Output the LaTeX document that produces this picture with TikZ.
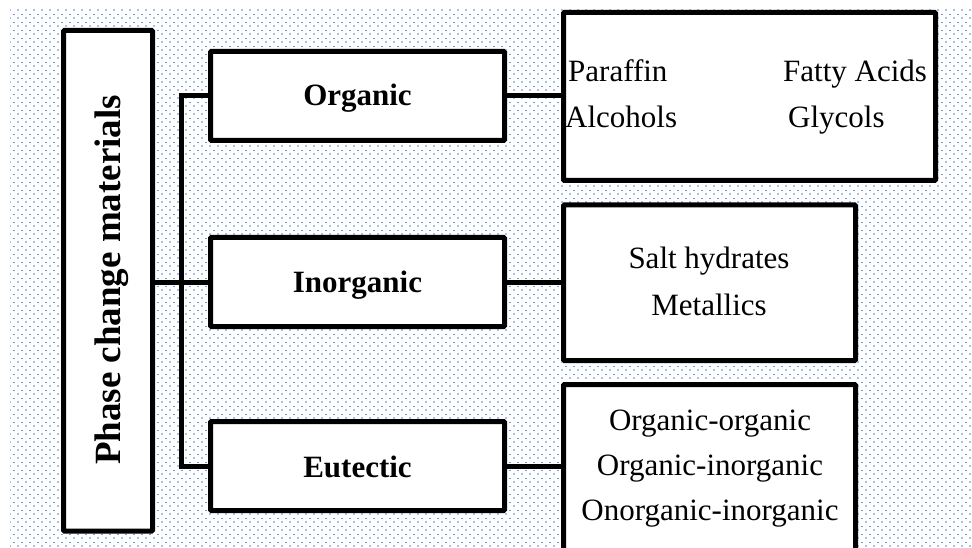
\documentclass[tikz,border=0pt]{standalone}
\usepackage{fontspec}
\setmainfont{Liberation Serif}
\usetikzlibrary{patterns}

% speckled background: dot rows and short-dash rows on a staggered grid
\pgfdeclarepatternformonly{pcmdots}{\pgfpoint{-1pt}{-1pt}}{\pgfpoint{9pt}{9pt}}{\pgfpoint{8pt}{8pt}}{%
  \pgfpathcircle{\pgfpoint{2pt}{2pt}}{0.8pt}%
  \pgfusepath{fill}}
\pgfdeclarepatternformonly{pcmdashes}{\pgfpoint{-1pt}{-1pt}}{\pgfpoint{9pt}{9pt}}{\pgfpoint{8pt}{8pt}}{%
  \pgfpathrectangle{\pgfpoint{5.3pt}{5.65pt}}{\pgfpoint{1.4pt}{0.7pt}}%
  \pgfusepath{fill}}

\definecolor{dotblue}{RGB}{78,128,205}
\definecolor{dashblue}{RGB}{110,155,220}

\tikzset{
  box/.style={draw=black, line width=5pt, fill=white, rounded corners=1pt,
    inner sep=0pt, outer sep=0pt},
  link/.style={draw=black, line width=5pt},
  headtext/.style={font=\bfseries\fontsize{31}{36}\selectfont, inner sep=0pt, anchor=base},
  itemtext/.style={font=\fontsize{31}{36}\selectfont, inner sep=0pt},
}

\begin{document}
\begin{tikzpicture}[x=1pt, y=-1pt]
\clip (0,0) rectangle (972,548);
\fill[white] (0,0) rectangle (972,548);
\fill[pattern=pcmdots, pattern color=dotblue] (10,10) rectangle (972,548);
\fill[pattern=pcmdashes, pattern color=dashblue] (10,10) rectangle (972,548);

% main category box
\node[box, minimum width=89pt, minimum height=500.5pt] (pcm) at (108,280.75) {};
\node[rotate=90, anchor=base, inner sep=0pt, font=\bfseries\fontsize{37}{42}\selectfont]
  (pcmlabel) at (120,280) {Phase change materials};

% classes
\node[box, minimum width=294pt, minimum height=89pt] (org) at (357.5,96) {};
\node[box, minimum width=294pt, minimum height=89pt] (inorg) at (357.5,282) {};
\node[box, minimum width=294pt, minimum height=89pt] (eut) at (357.5,466) {};
\node[headtext] (orglabel) at (357.5,106) {Organic};
\node[headtext] (inorglabel) at (357.5,292) {Inorganic};
\node[headtext] (eutlabel) at (357.5,477) {Eutectic};

% examples
\node[box, minimum width=372pt, minimum height=168pt] (orgex) at (749.5,96.5) {};
\node[box, minimum width=292pt, minimum height=155.5pt] (inorgex) at (709.5,282.75) {};
\node[box, minimum width=292pt, minimum height=176pt] (eutex) at (709.5,472.5) {};

\node[itemtext, anchor=base west] (paraffin) at (568,82) {Paraffin};
\node[itemtext, anchor=base west] (fatty) at (783,82) {Fatty Acids};
\node[itemtext, anchor=base west] (alcohols) at (565,128) {Alcohols};
\node[itemtext, anchor=base west] (glycols) at (788,128) {Glycols};

\node[itemtext, anchor=base] (salt) at (709,269) {Salt hydrates};
\node[itemtext, anchor=base] (metal) at (709,315) {Metallics};

\node[itemtext, anchor=base] (oo) at (710,430) {Organic-organic};
\node[itemtext, anchor=base] (oi) at (710,475) {Organic-inorganic};
\node[itemtext, anchor=base] (ii) at (710,520) {Onorganic-inorganic};

% connectors
\coordinate (bus) at (181.5,96);
\draw[link] (org.west) -- (org.west -| bus) -- (eut.west -| bus) -- (eut.west);
\draw[link] (inorg.west) -- (inorg.west -| pcm.east);
\draw[link] (org.east) -- (org.east -| orgex.west);
\draw[link] (inorg.east) -- (inorg.east -| inorgex.west);
\draw[link] (eut.east) -- (eut.east -| eutex.west);
\end{tikzpicture}
\end{document}
